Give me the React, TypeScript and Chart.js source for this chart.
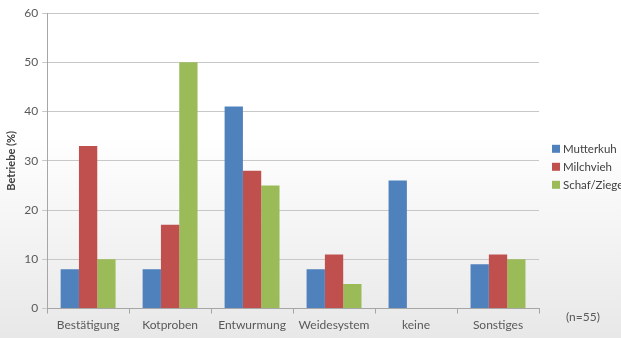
import React, { useEffect, useRef } from "react";
import { Chart, registerables } from "chart.js";

Chart.register(...registerables);

const categories = ["Bestätigung", "Kotproben", "Entwurmung", "Weidesystem", "keine", "Sonstiges"];
const mutterkuh = [8, 8, 41, 8, 26, 9];
const milchvieh = [33, 17, 28, 11, 0, 11];
const schafZiege = [10, 50, 25, 5, 0, 10];
const seriesNames = ["Mutterkuh", "Milchvieh", "Schaf/Ziege"];
const seriesColors = ["#4F81BD", "#C0504D", "#9BBB59"];
const yTicks = [0, 10, 20, 30, 40, 50, 60];
const noteText = "(n=55)";

const FONT = "Lato, 'Open Sans', 'DejaVu Sans', sans-serif";

export default function App() {
  const ref = useRef<HTMLCanvasElement | null>(null);
  useEffect(() => {
    if (!ref.current) return;
    const extrasPlugin = {
      id: "extras",
      afterDraw(chart: any) {
        const ctx = chart.ctx;
        const area = chart.chartArea;
        ctx.save();
        ctx.textBaseline = "middle";
        ctx.textAlign = "left";
        // legend
        ctx.font = `11.5px ${FONT}`;
        const midY = (area.top + area.bottom) / 2 + 6;
        chart.data.datasets.forEach((ds: any, i: number) => {
          const y = midY + (i - 1) * 18;
          ctx.fillStyle = ds.backgroundColor;
          ctx.fillRect(area.right + 13, y - 4, 8, 8);
          ctx.fillStyle = "#404040";
          ctx.fillText(ds.label, area.right + 24, y);
        });
        // note
        ctx.font = `12px ${FONT}`;
        ctx.fillStyle = "#595959";
        ctx.fillText(noteText, area.right + 27, area.bottom + 9);
        ctx.restore();
      },
    };
    const chart = new Chart(ref.current, {
      type: "bar",
      data: {
        labels: categories,
        datasets: [
          { label: seriesNames[0], data: mutterkuh, backgroundColor: seriesColors[0] },
          { label: seriesNames[1], data: milchvieh, backgroundColor: seriesColors[1] },
          { label: seriesNames[2], data: schafZiege, backgroundColor: seriesColors[2] },
        ],
      },
      options: {
        responsive: false,
        animation: false,
        layout: { padding: { top: 13, left: 0, right: 82, bottom: 2 } },
        datasets: { bar: { categoryPercentage: 0.67, barPercentage: 1.0 } },
        plugins: {
          tooltip: { enabled: false },
          legend: { display: false },
        },
        scales: {
          x: {
            grid: { drawOnChartArea: false, drawTicks: true, tickLength: 5, color: "#a6a6a6" },
            border: { color: "#a6a6a6" },
            ticks: { color: "#595959", font: { family: FONT, size: 12 }, padding: 4, maxRotation: 0 },
          },
          y: {
            min: 0,
            max: 60,
            afterBuildTicks(scale: any) {
              scale.ticks = yTicks.map((v) => ({ value: v }));
            },
            grid: { color: "#c8c8c8", tickLength: 5 },
            border: { color: "#a6a6a6" },
            ticks: { color: "#595959", font: { family: FONT, size: 12 }, padding: 4 },
            title: {
              display: true,
              text: "Betriebe (%)",
              color: "#404040",
              font: { family: FONT, size: 11, weight: "bold" },
              padding: { top: 5, bottom: 2 },
            },
          },
        },
      },
      plugins: [extrasPlugin],
    });
    return () => chart.destroy();
  }, []);
  return (
    <div
      style={{
        position: "fixed",
        left: 0,
        top: 0,
        width: 621,
        height: 338,
        background: "linear-gradient(to bottom, #ffffff 0%, #ffffff 40%, #e8e8e8 100%)",
      }}
    >
      <canvas ref={ref} width={621} height={338} />
    </div>
  );
}
